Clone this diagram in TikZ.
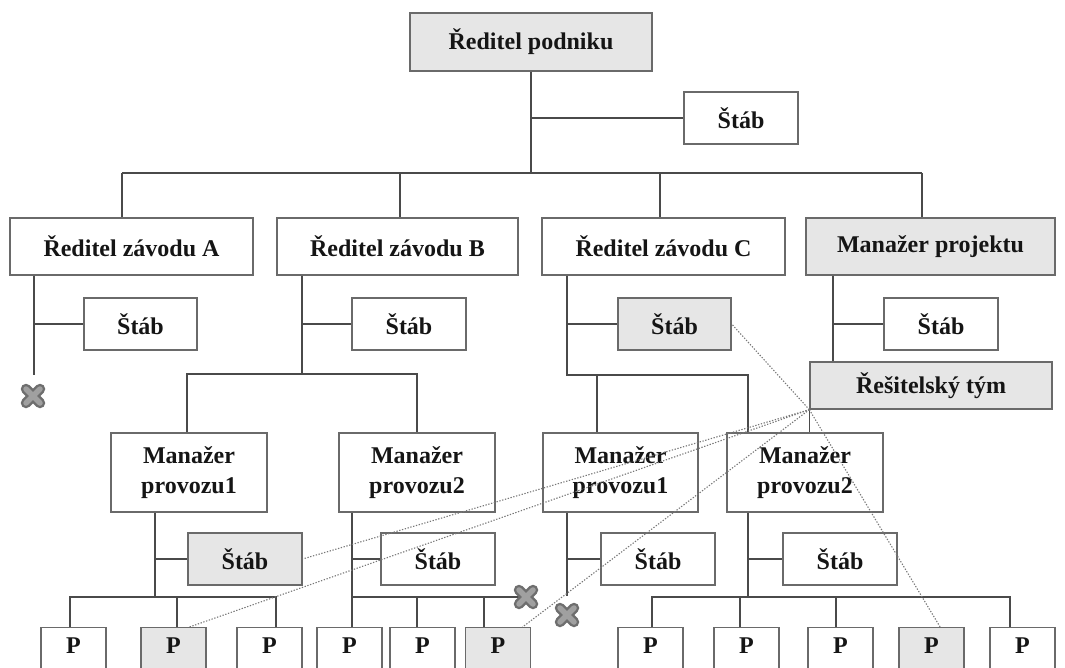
\documentclass[tikz,border=0pt]{standalone}
\usepackage{fontspec}
\setmainfont{Liberation Serif}
\usetikzlibrary{calc}

\definecolor{boxline}{HTML}{6A6A6A}
\definecolor{linkcol}{HTML}{4A4A4A}
\definecolor{boxfill}{HTML}{E6E6E6}
\definecolor{dotcol}{HTML}{777777}
\definecolor{inkcol}{HTML}{151515}
\definecolor{crossrim}{HTML}{6E6E6E}
\definecolor{crosscore}{HTML}{A0A0A0}

% a grey "cancelled" cross centred on a named coordinate
\newcommand\drawcross[1]{%
  \begin{scope}[shift={(#1)}]
    \draw[crossrim, line width=10.5pt, line cap=round] (-7,-7) -- (7,7) (-7,7) -- (7,-7);
    \draw[crosscore, line width=5.5pt, line cap=round] (-7,-7) -- (7,7) (-7,7) -- (7,-7);
  \end{scope}}

\begin{document}
\begin{tikzpicture}[x=1pt, y=-1pt,
  box/.style={draw=boxline, line width=1.3pt, fill=white, inner sep=0pt,
              text=inkcol, align=center, font=\bfseries\fontsize{24}{30}\selectfont},
  shade/.style={fill=boxfill},
  staff/.style={box, minimum width=114pt, minimum height=52pt},
  unit/.style={box, minimum height=57pt},
  oper/.style={box, minimum width=156pt, minimum height=79pt},
  worker/.style={box, anchor=north, minimum width=65pt, text height=26pt, text depth=47pt},
  link/.style={draw=linkcol, line width=1.5pt},
  tie/.style={draw=dotcol, line width=1.1pt, dash pattern=on 1.3pt off 1.6pt}]

\useasboundingbox (0,0) rectangle (1065,668);
\clip (0,0) rectangle (1065,668);

% ---------- boxes ----------
\node[box, shade, minimum width=242pt, minimum height=58pt] (top) at (531,42) {Ředitel podniku};
\node[staff] (s0) at (741,118) {Štáb};

\node[unit, minimum width=243pt] (zA) at (131.5,246.5) {Ředitel závodu A};
\node[unit, minimum width=241pt] (zB) at (397.5,246.5) {Ředitel závodu B};
\node[unit, minimum width=243pt] (zC) at (663.5,246.5) {Ředitel závodu C};
\node[unit, shade, minimum width=249pt] (mp) at (930.5,246.5) {Manažer projektu};

\node[staff, minimum width=113pt] (sA) at (140.5,324) {Štáb};
\node[staff] (sB) at (409,324) {Štáb};
\node[staff, shade, minimum width=113pt] (sC) at (674.5,324) {Štáb};
\node[staff] (sM) at (941,324) {Štáb};

\node[box, shade, minimum width=242pt, minimum height=47pt] (team) at (931,385.5) {Řešitelský tým};

\node[oper] (b1) at (189,472.5) {Manažer\\provozu1};
\node[oper] (b2) at (417,472.5) {Manažer\\provozu2};
\node[oper, minimum width=155pt] (c1) at (620.5,472.5) {Manažer\\provozu1};
\node[oper] (c2) at (805,472.5) {Manažer\\provozu2};

\node[staff, shade] (sb1) at (245,559) {Štáb};
\node[staff] (sb2) at (438,559) {Štáb};
\node[staff] (sc1) at (658,559) {Štáb};
\node[staff] (sc2) at (840,559) {Štáb};

\node[worker] (p1) at (73.5,627) {P};
\node[worker, shade] (p2) at (173.5,627) {P};
\node[worker] (p3) at (269.5,627) {P};
\node[worker] (p4) at (349.5,627) {P};
\node[worker] (p5) at (422.5,627) {P};
\node[worker, shade] (p6) at (498,627) {P};
\node[worker] (p7) at (650.5,627) {P};
\node[worker] (p8) at (746.5,627) {P};
\node[worker] (p9) at (840.5,627) {P};
\node[worker, shade] (p10) at (931.5,627) {P};
\node[worker] (p11) at (1022.5,627) {P};

% ---------- junction points ----------
\coordinate (busL) at (122,173);
\coordinate (busR) at (922,173);
\coordinate (dB) at (400,173);
\coordinate (dC) at (660,173);

\coordinate (tA) at (34,375);
\coordinate (xA) at (33,396);

\coordinate (tB) at (302,374);
\coordinate (bL) at (187,374);
\coordinate (bR) at (417,374);

\coordinate (tC) at (567,375);
\coordinate (cL) at (597,375);
\coordinate (cR) at (748,375);

\coordinate (tM) at (833,0);

\coordinate (tb1) at (155,597);
\coordinate (b1L) at (70,597);
\coordinate (b1M) at (177,597);
\coordinate (b1R) at (276,597);

\coordinate (tb2) at (352,597);
\coordinate (b2M) at (417,597);
\coordinate (b2R) at (484,597);
\coordinate (xB) at (526,597);

\coordinate (tc1) at (567,596);
\coordinate (xC) at (567,615);

\coordinate (tc2) at (748,597);
\coordinate (c2a) at (652,597);
\coordinate (c2b) at (740,597);
\coordinate (c2c) at (836,597);
\coordinate (c2d) at (1010,597);

% ---------- reporting lines ----------
\draw[link] (top.south) -- (top.south |- busL);
\draw[link] (top.south |- s0.west) -- (s0.west);
\draw[link] (busL) -- (busR);
\draw[link] (busL) -- (busL |- zA.north);
\draw[link] (dB) -- (dB |- zB.north);
\draw[link] (dC) -- (dC |- zC.north);
\draw[link] (busR) -- (busR |- mp.north);

% plant A
\draw[link] (tA |- zA.south) -- (tA);
\draw[link] (tA |- sA.west) -- (sA.west);

% plant B
\draw[link] (tB |- zB.south) -- (tB);
\draw[link] (tB |- sB.west) -- (sB.west);
\draw[link] (bL |- b1.north) -- (bL) -- (bR) -- (bR |- b2.north);

% plant C
\draw[link] (tC |- zC.south) -- (tC) -- (cR) -- (cR |- c2.north);
\draw[link] (tC |- sC.west) -- (sC.west);
\draw[link] (cL) -- (cL |- c1.north);

% project manager and team
\draw[link] (tM |- mp.south) -- (tM |- team.north);
\draw[link] (tM |- sM.west) -- (sM.west);
\draw[link] (team.south west) -- (team.south west |- c2.north);

% plant B, operation 1
\draw[link] (tb1 |- b1.south) -- (tb1);
\draw[link] (tb1 |- sb1.west) -- (sb1.west);
\draw[link] (b1L |- p1.north) -- (b1L) -- (b1R) -- (b1R |- p3.north);
\draw[link] (b1M) -- (b1M |- p2.north);

% plant B, operation 2
\draw[link] (tb2 |- b2.south) -- (tb2 |- p4.north);
\draw[link] (tb2 |- sb2.west) -- (sb2.west);
\draw[link] (tb2) -- (xB);
\draw[link] (b2M) -- (b2M |- p5.north);
\draw[link] (b2R) -- (b2R |- p6.north);

% plant C, operation 1
\draw[link] (tc1 |- c1.south) -- (tc1);
\draw[link] (tc1 |- sc1.west) -- (sc1.west);

% plant C, operation 2
\draw[link] (tc2 |- c2.south) -- (tc2);
\draw[link] (tc2 |- sc2.west) -- (sc2.west);
\draw[link] (c2a |- p7.north) -- (c2a) -- (c2d) -- (c2d |- p11.north);
\draw[link] (c2b) -- (c2b |- p8.north);
\draw[link] (c2c) -- (c2c |- p9.north);

% ---------- cancelled branches ----------
\drawcross{xA}
\drawcross{xB}
\drawcross{xC}

% ---------- team membership ----------
\draw[tie] (team.south west) -- (sC.east);
\draw[tie] (team.south west) -- (sb1.east);
\draw[tie] (team.south west) -- ($(p2.north west)!0.74!(p2.north east)$);
\draw[tie] (team.south west) -- ($(p6.north west)!0.87!(p6.north east)$);
\draw[tie] (team.south west) -- ($(p10.north west)!0.63!(p10.north east)$);

\end{tikzpicture}
\end{document}
